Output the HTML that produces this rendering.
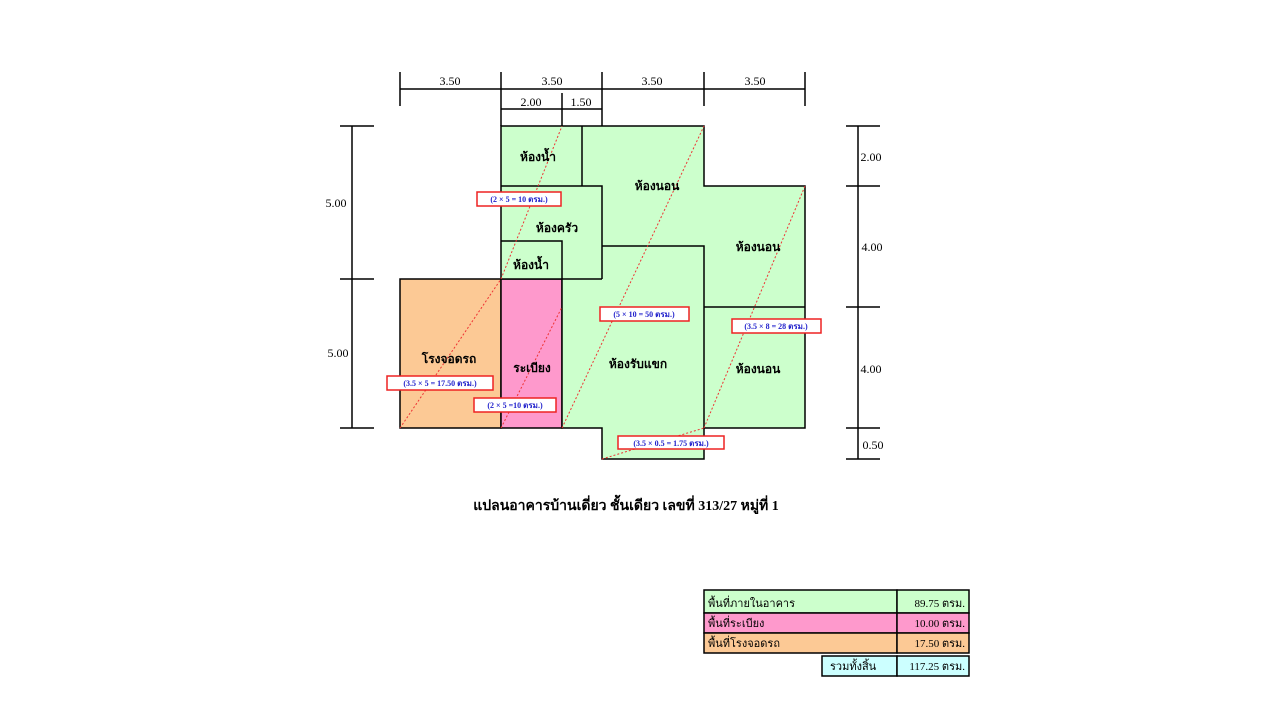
<!DOCTYPE html>
<html><head><meta charset="utf-8"><style>
body{margin:0;background:#fff;width:1280px;height:720px;overflow:hidden}
svg text{font-family:"Liberation Serif","Noto Serif CJK SC","Noto Sans CJK SC",serif}
</style></head><body>
<svg width="1280" height="720" xmlns="http://www.w3.org/2000/svg">
<g stroke="#000" stroke-width="1.5">
<rect x="400" y="279" width="101" height="149" fill="#fcc995"/>
<rect x="501" y="279" width="61" height="149" fill="#fe99cc"/>
<path d="M501,126H704V186H805V428H704V459H602V428H562V279H501Z" fill="#ccffcc"/>
<path d="M582,126V186M501,186H602V279M501,241H562V279M602,246H704V428M704,307H805M562,279H602" fill="none"/>
</g>
<g stroke="#e33" stroke-width="1" stroke-dasharray="2,2" fill="none">
<line x1="501" y1="279" x2="562" y2="126"/>
<line x1="400" y1="428" x2="501" y2="279"/>
<line x1="501" y1="428" x2="562" y2="307"/>
<line x1="562" y1="428" x2="704" y2="126"/>
<line x1="704" y1="428" x2="805" y2="186"/>
<line x1="602" y1="459" x2="704" y2="428"/>
</g>
<g stroke="#000" stroke-width="1.5">
<line x1="400" y1="89" x2="805" y2="89"/>
<line x1="400" y1="72" x2="400" y2="106"/><line x1="501" y1="72" x2="501" y2="126"/>
<line x1="602" y1="72" x2="602" y2="126"/><line x1="704" y1="72" x2="704" y2="106"/>
<line x1="805" y1="72" x2="805" y2="106"/>
<line x1="501" y1="109" x2="602" y2="109"/><line x1="562" y1="93" x2="562" y2="126"/>
<line x1="352" y1="126" x2="352" y2="428"/>
<line x1="340" y1="126" x2="374" y2="126"/><line x1="340" y1="279" x2="374" y2="279"/><line x1="340" y1="428" x2="374" y2="428"/>
<line x1="858" y1="126" x2="858" y2="459"/>
<line x1="846" y1="126" x2="880" y2="126"/><line x1="846" y1="186" x2="880" y2="186"/><line x1="846" y1="307" x2="880" y2="307"/><line x1="846" y1="428" x2="880" y2="428"/><line x1="846" y1="459" x2="880" y2="459"/>
</g>
<g font-size="12" text-anchor="middle" fill="#000">
<text x="450" y="85">3.50</text><text x="552" y="85">3.50</text><text x="652" y="85">3.50</text><text x="755" y="85">3.50</text>
<text x="531" y="106">2.00</text><text x="581" y="106">1.50</text>
<text x="336" y="207">5.00</text><text x="338" y="357">5.00</text>
<text x="871" y="161">2.00</text><text x="872" y="251">4.00</text><text x="871" y="373">4.00</text><text x="873" y="449">0.50</text>
</g>
<g font-size="12" text-anchor="middle" fill="#000" font-weight="bold">
<text x="538" y="161">ห้องน้ำ</text><text x="557" y="232">ห้องครัว</text><text x="531" y="269">ห้องน้ำ</text>
<text x="657" y="190">ห้องนอน</text><text x="758" y="251">ห้องนอน</text><text x="758" y="373">ห้องนอน</text>
<text x="449" y="363">โรงจอดรถ</text><text x="532" y="372">ระเบียง</text><text x="638" y="368">ห้องรับแขก</text>
</g>
<g font-size="8" font-weight="bold" fill="#2222cc" text-anchor="middle">
<rect x="477" y="192" width="84" height="14" fill="#fff" stroke="#e22" stroke-width="1.5"/><text x="519" y="202">(2 × 5 = 10 ตรม.)</text>
<rect x="600" y="307" width="89" height="14" fill="#fff" stroke="#e22" stroke-width="1.5"/><text x="644" y="317">(5 × 10 = 50 ตรม.)</text>
<rect x="732" y="319" width="89" height="14" fill="#fff" stroke="#e22" stroke-width="1.5"/><text x="776" y="329">(3.5 × 8 = 28 ตรม.)</text>
<rect x="387" y="376" width="106" height="14" fill="#fff" stroke="#e22" stroke-width="1.5"/><text x="440" y="386">(3.5 × 5 = 17.50 ตรม.)</text>
<rect x="474" y="398" width="82" height="14" fill="#fff" stroke="#e22" stroke-width="1.5"/><text x="515" y="408">(2 × 5 =10 ตรม.)</text>
<rect x="618" y="436" width="106" height="13" fill="#fff" stroke="#e22" stroke-width="1.5"/><text x="671" y="446">(3.5 × 0.5 = 1.75 ตรม.)</text>
</g>
<text x="626" y="510" font-size="14" font-weight="bold" text-anchor="middle">แปลนอาคารบ้านเดี่ยว ชั้นเดียว เลขที่ 313/27 หมู่ที่ 1</text>
<g stroke="#000" stroke-width="1.5" font-size="11">
<rect x="704" y="590" width="193" height="23" fill="#ccffcc"/><rect x="897" y="590" width="72" height="23" fill="#ccffcc"/>
<rect x="704" y="613" width="193" height="20" fill="#fe99cc"/><rect x="897" y="613" width="72" height="20" fill="#fe99cc"/>
<rect x="704" y="633" width="193" height="20" fill="#fcc995"/><rect x="897" y="633" width="72" height="20" fill="#fcc995"/>
<rect x="822" y="656" width="75" height="20" fill="#ccffff"/><rect x="897" y="656" width="72" height="20" fill="#ccffff"/>
</g>
<g font-size="11" fill="#000">
<text x="708" y="607">พื้นที่ภายในอาคาร</text><text x="708" y="627">พื้นที่ระเบียง</text><text x="708" y="647">พื้นที่โรงจอดรถ</text>
<text x="830" y="670">รวมทั้งสิ้น</text>
<g text-anchor="end"><text x="965" y="607">89.75 ตรม.</text><text x="965" y="627">10.00 ตรม.</text><text x="965" y="647">17.50 ตรม.</text><text x="965" y="670">117.25 ตรม.</text></g>
</g>
</svg>
</body></html>
